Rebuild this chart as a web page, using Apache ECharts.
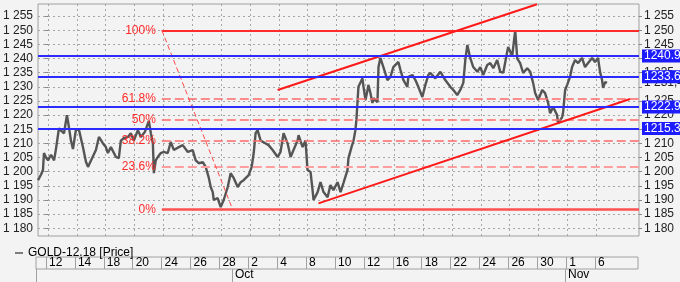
<!DOCTYPE html>
<html><head><meta charset="utf-8">
<script src="https://cdn.jsdelivr.net/npm/echarts@6/dist/echarts.min.js"></script>
<style>html,body{margin:0;padding:0;background:#f3f3f3}#c{width:680px;height:282px}</style>
</head><body><div id="c"></div>
<script>
// x positions in trading days from Sep 12 (0), price values
const dayPos = [-0.69,-0.48,-0.35,-0.28,-0.14,0.00,0.21,0.42,0.55,0.76,0.90,1.11,1.31,1.38,1.59,1.73,1.94,2.15,2.42,2.63,2.77,2.98,3.32,3.53,3.81,4.01,4.15,4.36,4.71,4.91,5.05,5.26,5.54,5.74,5.95,6.23,6.44,6.71,6.99,7.13,7.27,7.34,7.47,7.61,7.82,8.03,8.30,8.51,8.72,9.07,9.34,9.69,10.03,10.24,10.45,10.73,10.93,11.14,11.28,11.42,11.49,11.76,11.97,12.18,12.46,12.66,12.87,13.15,13.36,13.56,13.91,14.12,14.26,14.39,14.53,14.74,15.09,15.29,15.57,15.92,16.12,16.33,16.61,16.82,17.02,17.30,17.37,17.65,17.85,17.99,18.20,18.34,18.41,18.69,18.89,19.10,19.38,19.58,19.79,20.07,20.28,20.48,20.76,20.83,21.04,21.18,21.31,21.38,21.45,21.52,21.80,21.87,22.01,22.15,22.21,22.35,22.49,22.56,22.84,22.91,23.04,23.25,23.53,23.74,23.94,24.29,24.43,24.64,24.91,24.98,25.26,25.47,25.67,25.95,26.16,26.37,26.51,26.85,27.20,27.54,27.89,28.10,28.37,28.58,28.79,28.93,29.07,29.27,29.48,29.76,29.97,30.17,30.45,30.66,30.87,31.14,31.35,31.56,31.83,31.90,32.18,32.39,32.53,32.73,32.94,33.22,33.43,33.63,33.77,33.98,34.26,34.46,34.67,34.81,35.02,35.29,35.36,35.64,35.71,35.85,35.99,36.19,36.33,36.54,36.75,37.02,37.23,37.44,37.72,37.92,38.13,38.27,38.41,38.48,38.62,38.75];
const price = [1197,1199,1200.6,1206.6,1205,1204,1206,1204,1208,1215.4,1214.5,1213.6,1220,1218,1211,1208,1215,1214.7,1208.7,1203.5,1201.7,1204,1207.7,1212.3,1210,1208.7,1206.6,1208.7,1205.2,1204.8,1211,1211.9,1212.3,1213.6,1211,1214.7,1212.3,1214,1218,1213.6,1210,1199.5,1204,1205.2,1206.6,1207,1206.6,1210.5,1207.7,1208.7,1209.4,1207,1207.6,1204,1203,1203.4,1201.7,1198,1194.6,1192.8,1190,1190.7,1187.5,1190,1194.6,1199.5,1197.8,1194.6,1196.3,1197,1198.8,1201.7,1206.6,1213.6,1214.7,1211,1210,1209.4,1207.7,1205.2,1207,1213.6,1210,1205.2,1207.7,1211,1212.9,1208.7,1211,1200.6,1199.9,1193.5,1190,1192.8,1196.3,1192.8,1191,1195.3,1193.5,1196.3,1192.8,1196,1200.6,1204.8,1208.7,1211,1214.7,1218.3,1224.3,1230,1233,1230,1225.3,1228.9,1230.7,1227.8,1224.3,1226,1224.6,1237,1240.2,1237,1232.4,1233.5,1237,1238.8,1236,1232.4,1230,1233.5,1234.2,1232.4,1230,1226.4,1230.7,1234.2,1234.9,1233,1235.3,1232.4,1230,1228.9,1227.1,1228.9,1231.4,1239.5,1244.8,1240.2,1237,1235.3,1237,1234.2,1237.7,1238.4,1236.6,1239.5,1235.3,1235,1242.3,1244.1,1240.9,1250,1240,1238.4,1234.9,1236.6,1235.3,1231.4,1227.8,1225.3,1228.9,1227.8,1224.3,1220.7,1222.9,1220,1217,1219.3,1221,1228.9,1230.7,1233.5,1237,1239.5,1238.4,1240.2,1237,1238.4,1240.2,1238.8,1240.2,1235.3,1232.4,1229.6,1231.7,1231.4];

const dateTicks = [0,2,4,6,8,10,12,14,16,18,20,22,24,26,28,30,32,34,36,38];
const dateLabels = ['12','14','18','20','24','26','28','2','4','8','10','12','16','18','22','24','26','30','1','6'];
const monthTicks = [12.87, 35.92];
const monthLabels = ['Oct','Nov'];
const priceTicks = [1180,1185,1190,1195,1200,1205,1210,1215,1220,1225,1230,1235,1240,1245,1250,1255];

const blueLevels = [1240.9, 1233.6, 1222.9, 1215.3];
const lastPrice = 1231.4;

const fibHigh = 1250, fibLow = 1186.7;
const fibRatios = [1, 0.618, 0.5, 0.382, 0.236, 0];
const fibLabels = ['100%','61.8%','50%','38.2%','23.6%','0%'];
const fibStartDay = 7.89, fibEndDay = 12.8;

const channelUpper = [[15.92, 1228.9], [33.9, 1259.2]];
const channelLower = [[18.75, 1188.8], [40.35, 1225.7]];

const xMin = -0.692, xMax = 40.97, yMin = 1177.28, yMax = 1259.28;
const FONT = 'Liberation Sans, Arial, sans-serif';

const fmtPrice = v => String(v).replace(/^(\d)(\d{3})$/, '$1 $2');

const fibStyles = {
  '100%': {color:'#ff2a2a', width:2, type:'solid'},
  '61.8%': {color:'#ff6b6b', width:1.5, type:[9,4]},
  '50%': {color:'#ff6b6b', width:1.5, type:[9,4]},
  '38.2%': {color:'#ff6b6b', width:1.5, type:[9,4]},
  '23.6%': {color:'#ff9e9e', width:2, type:[9,4]},
  '0%': {color:'#ff5050', width:2.5, type:'solid'}
};

const markData = [];
// last price label (under the blue tags)
markData.push({yAxis: lastPrice, lineStyle:{color:'rgba(0,0,0,0)', width:0},
  label:{show:true, position:'end', distance:4, formatter: fmtPrice(String(lastPrice).split('.')[0]) + ',' + String(lastPrice).split('.')[1],
    color:'#222', fontSize:12, fontFamily:FONT, backgroundColor:'#f3f3f3', padding:[2,6,2,1]}});
fibRatios.forEach((r,i) => {
  const lvl = fibLow + r*(fibHigh - fibLow);
  markData.push([
    {coord:[fibStartDay, lvl], lineStyle: fibStyles[fibLabels[i]],
     label:{show:true, position:'start', distance:6, formatter: fibLabels[i], color:'#ff2a2a', fontSize:12, fontFamily:FONT, padding:[0,0,11,0]}},
    {coord:[xMax, lvl]}
  ]);
});
markData.push([{coord:[fibStartDay, fibHigh], lineStyle:{color:'#ff4a4a', width:1, type:[5,3]}, label:{show:false}}, {coord:[fibEndDay, fibLow]}]);
markData.push([{coord:channelUpper[0], lineStyle:{color:'#ff1a1a', width:2, type:'solid'}, label:{show:false}}, {coord:channelUpper[1]}]);
markData.push([{coord:channelLower[0], lineStyle:{color:'#ff1a1a', width:2, type:'solid'}, label:{show:false}}, {coord:channelLower[1]}]);
blueLevels.forEach(v => {
  markData.push({yAxis: v, lineStyle:{color:'#2b2bff', width:2, type:'solid'},
    label:{show:true, position:'end', distance:3, formatter: String(v), color:'#fff', backgroundColor:'#1c1cff', padding:[1,4,0,2], fontSize:12, fontFamily:FONT}});
});

const chart = echarts.init(document.getElementById('c'));
chart.setOption({
  animation:false,
  backgroundColor:'#f3f3f3',
  textStyle:{fontFamily:FONT},
  legend:{left:10, top:242, icon:'rect', itemWidth:8, itemHeight:1.5, itemGap:5,
    textStyle:{fontSize:12, color:'#000', fontFamily:FONT}, data:['GOLD-12.18 [Price]']},
  grid:[
    {left:36, right:41, top:4, bottom:46, show:true, borderColor:'#a0a0a0', borderWidth:1, backgroundColor:'#f3f3f3'},
    {left:36, right:42, top:257, height:12, show:true, borderColor:'#a0a0a0', borderWidth:1},
    {left:36, right:42, top:269, height:14}
  ],
  xAxis:[
    {type:'value', gridIndex:0, min:xMin, max:xMax, axisLine:{show:false},
     axisTick:{show:false, customValues:dateTicks}, axisLabel:{show:false},
     splitLine:{show:true, lineStyle:{color:'#a6a6a6', type:[2,3], width:1}}},
    {type:'value', gridIndex:1, min:xMin, max:xMax, position:'bottom', axisLine:{show:false},
     axisTick:{show:false, customValues:dateTicks},
     axisLabel:{show:true, inside:true, customValues:dateTicks, margin:6, align:'left', verticalAlign:'middle', padding:[0,0,0,3],
       formatter: v => dateLabels[dateTicks.indexOf(v)], color:'#000', fontSize:12, fontFamily:FONT},
     splitLine:{show:true, lineStyle:{color:'#a0a0a0', width:1}}},
    {type:'value', gridIndex:2, min:xMin, max:xMax, position:'bottom', axisLine:{show:false},
     axisTick:{show:false, customValues:monthTicks},
     axisLabel:{show:true, inside:true, customValues:monthTicks, margin:7, align:'left', verticalAlign:'middle', padding:[0,0,0,3],
       formatter: v => monthLabels[monthTicks.indexOf(v)], color:'#000', fontSize:12, fontFamily:FONT},
     splitLine:{show:true, lineStyle:{color:'#a0a0a0', width:1}}}
  ],
  yAxis:[
    {type:'value', gridIndex:0, position:'left', min:yMin, max:yMax, axisLine:{show:false},
     axisTick:{show:true, length:3, customValues:priceTicks, lineStyle:{color:'#888'}},
     axisLabel:{customValues:priceTicks, formatter:fmtPrice, color:'#222', fontSize:12, margin:5, fontFamily:FONT},
     splitLine:{show:true, lineStyle:{color:'#a6a6a6', type:[2,3], width:1}}},
    {type:'value', gridIndex:0, position:'right', min:yMin, max:yMax, axisLine:{show:false},
     axisTick:{show:true, length:3, customValues:priceTicks, lineStyle:{color:'#888'}},
     axisLabel:{customValues:priceTicks, formatter:fmtPrice, color:'#222', fontSize:12, margin:5, fontFamily:FONT},
     splitLine:{show:false}},
    {type:'value', gridIndex:1, min:0, max:1, show:false},
    {type:'value', gridIndex:2, min:0, max:1, position:'left', axisLine:{show:true, onZero:false, lineStyle:{color:'#a0a0a0'}}, axisTick:{show:false}, axisLabel:{show:false}, splitLine:{show:false}}
  ],
  series:[
    {name:'GOLD-12.18 [Price]', type:'line', xAxisIndex:0, yAxisIndex:0, showSymbol:false,
     data: dayPos.map((d,i) => [d, price[i]]), lineStyle:{color:'#555555', width:2.4}, itemStyle:{color:'#555555'}, z:3},
    {name:'levels', type:'line', xAxisIndex:0, yAxisIndex:0, data:[], z:5,
     markLine:{silent:true, symbol:'none', animation:false, data:markData}}
  ]
});
</script>
</body></html>
